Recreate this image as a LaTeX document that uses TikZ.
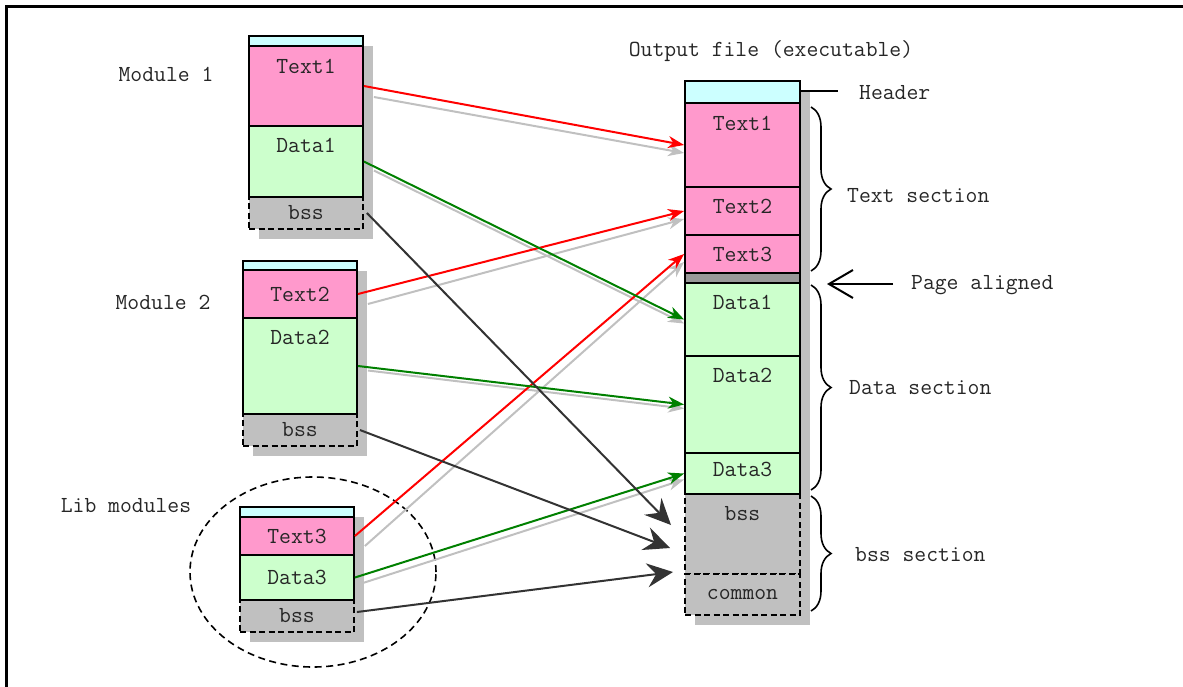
\documentclass[tikz,border=0pt]{standalone}
\usepackage{fontspec}
\usetikzlibrary{arrows.meta,shapes.geometric,decorations.pathreplacing}
\definecolor{pinkc}{HTML}{FF99CC}
\definecolor{greenc}{HTML}{CCFFCC}
\definecolor{cyanc}{HTML}{CCFFFF}
\definecolor{grayc}{HTML}{C0C0C0}
\definecolor{padc}{HTML}{999999}
\definecolor{darkc}{HTML}{333333}
\definecolor{greenl}{HTML}{008000}
\begin{document}
\begin{tikzpicture}[x=1pt,y=-1pt,
  every node/.style={font=\fontsize{23}{27}\selectfont\ttfamily, text=black!85},
  seg/.style={draw, line width=1.8pt, inner sep=0pt, minimum width=114pt},
  dseg/.style={seg, dash pattern=on 6pt off 3.5pt, fill=grayc},
  txt/.style={inner sep=0pt},
  shadowbox/.style={fill=grayc},
  redarr/.style={draw=red, line width=2pt, -{Stealth[length=16pt,width=12pt,inset=5pt]}},
  greenarr/.style={draw=greenl, line width=2pt, -{Stealth[length=16pt,width=12pt,inset=5pt]}},
  grayarr/.style={draw=grayc, line width=2pt, -{Stealth[length=16pt,width=12pt,inset=5pt]}},
  bssarr/.style={draw=darkc, line width=2pt, -{Stealth[length=26pt,width=24pt,inset=9pt]}},
  sbrace/.style={draw, line width=1.6pt, decorate, decoration={brace, amplitude=20pt}}
]
\useasboundingbox (0,0) rectangle (1183,686);
% frame
\draw[line width=3pt] (6,700) -- (6,6) -- (1200,6);

% shadows
\fill[shadowbox] (259,46) rectangle (373,239);
\fill[shadowbox] (253,271) rectangle (367,456);
\fill[shadowbox] (250,517) rectangle (364,642);
\fill[shadowbox] (695,91) rectangle (810,625);

% lib group ellipse
\node[ellipse, draw, dash pattern=on 7pt off 4.5pt, line width=1.6pt, minimum width=246pt, minimum height=190pt] (libgroup) at (313,572) {};

% Module 1
\node[dseg, minimum height=32pt] (b1) at (306,213) {};
\node[seg, fill=cyanc, minimum height=10pt] (h1) at (306,41) {};
\node[seg, fill=pinkc, minimum height=80pt] (t1) at (306,86) {};
\node[seg, fill=greenc, minimum height=71pt] (d1) at (306,161.5) {};
% Module 2
\node[dseg, minimum height=32pt] (b2) at (300,430) {};
\node[seg, fill=cyanc, minimum height=9pt] (h2) at (300,265.5) {};
\node[seg, fill=pinkc, minimum height=48pt] (t2) at (300,294) {};
\node[seg, fill=greenc, minimum height=96pt] (d2) at (300,366) {};
% Lib
\node[dseg, minimum height=32pt] (b3) at (297,616) {};
\node[seg, fill=cyanc, minimum height=10pt] (h3) at (297,512) {};
\node[seg, fill=pinkc, minimum height=38pt] (t3) at (297,536) {};
\node[seg, fill=greenc, minimum height=45pt] (d3) at (297,577.5) {};

% Output file
\node[dseg, minimum width=115pt, minimum height=80pt] (obss) at (742.5,534) {};
\node[dseg, minimum width=115pt, minimum height=41pt] (ocom) at (742.5,594.5) {};
\node[seg, minimum width=115pt, fill=cyanc, minimum height=22pt] (oh) at (742.5,92) {};
\node[seg, minimum width=115pt, fill=pinkc, minimum height=84pt] (ot1) at (742.5,145) {};
\node[seg, minimum width=115pt, fill=pinkc, minimum height=48pt] (ot2) at (742.5,211) {};
\node[seg, minimum width=115pt, fill=pinkc, minimum height=38pt] (ot3) at (742.5,254) {};
\node[seg, minimum width=115pt, fill=padc, minimum height=10pt] (opad) at (742.5,278) {};
\node[seg, minimum width=115pt, fill=greenc, minimum height=73pt] (od1) at (742.5,319.5) {};
\node[seg, minimum width=115pt, fill=greenc, minimum height=97pt] (od2) at (742.5,404.5) {};
\node[seg, minimum width=115pt, fill=greenc, minimum height=41pt] (od3) at (742.5,473.5) {};

% gray shadow arrows
\draw[grayarr] ([shift={(10,11)}]t1.east) -- ([yshift=-8pt]ot1.west);
\draw[grayarr] ([shift={(10,10)}]t2.east) -- ([yshift=-8pt]ot2.west);
\draw[grayarr] ([shift={(10,10)}]t3.east) -- ([yshift=-8pt]ot3.west);
\draw[grayarr] ([shift={(10,9)}]d1.east) -- ([yshift=-4pt]od1.west);
\draw[grayarr] ([shift={(10,4.5)}]d2.east) -- ([yshift=-4pt]od2.west);
\draw[grayarr] ([shift={(8,5.5)}]d3.east) -- ([yshift=-6pt]od3.west);

% colored arrows
\draw[redarr] (t1.east) -- (ot1.west);
\draw[redarr] (t2.east) -- (ot2.west);
\draw[redarr] (t3.east) -- (ot3.west);
\draw[greenarr] (d1.east) -- (od1.west);
\draw[greenarr] (d2.east) -- (od2.west);
\draw[greenarr] (d3.east) -- (od3.west);

% bss arrows
\coordinate (e1) at (671,525);
\coordinate (e2) at (670,548);
\coordinate (e3) at (673,572);
\draw[bssarr] ([xshift=3pt]b1.east) -- (e1);
\draw[bssarr] ([xshift=2pt]b2.east) -- (e2);
\draw[bssarr] ([shift={(2,-4)}]b3.east) -- (e3);

% box labels
\node[txt] (t1l) at ([yshift=-21pt]t1.north) {Text1};
\node[txt] (d1l) at ([yshift=-20pt]d1.north) {Data1};
\node[txt] (b1l) at (b1.center) {bss};
\node[txt] (t2l) at (t2.center) {Text2};
\node[txt] (d2l) at ([yshift=-20pt]d2.north) {Data2};
\node[txt] (b2l) at (b2.center) {bss};
\node[txt] (t3l) at (t3.center) {Text3};
\node[txt] (d3l) at (d3.center) {Data3};
\node[txt] (b3l) at (b3.center) {bss};
\node[txt] (ot1l) at ([yshift=-21pt]ot1.north) {Text1};
\node[txt] (ot2l) at ([yshift=-20pt]ot2.north) {Text2};
\node[txt] (ot3l) at (ot3.center) {Text3};
\node[txt] (od1l) at ([yshift=-20pt]od1.north) {Data1};
\node[txt] (od2l) at ([yshift=-20pt]od2.north) {Data2};
\node[txt] (od3l) at ([yshift=4pt]od3.center) {Data3};
\node[txt] (obssl) at ([yshift=-20pt]obss.north) {bss};
\node[txt] (ocoml) at (ocom.center) {common};

% side labels
\node[txt] (m1) at (166,74) {Module 1};
\node[txt] (m2) at (163,302) {Module 2};
\node[txt] (lib) at (126,506) {Lib modules};
\node[txt] (outl) at (771,51) {Output file (executable)};
\node[txt, anchor=west] (hdr) at (859,93) {Header};
\coordinate (hdrend) at (838,91);
\draw[line width=1.6pt] ([yshift=1pt]oh.east) -- (hdrend);

% braces
\coordinate (tb1) at (811,107);
\coordinate (tb2) at (811,271);
\coordinate (db1) at (811,285);
\coordinate (db2) at (811,490);
\coordinate (bb1) at (811,496);
\coordinate (bb2) at (811,611);
\draw[sbrace] (tb1) -- (tb2);
\draw[sbrace] (db1) -- (db2);
\draw[sbrace] (bb1) -- (bb2);
\node[txt, anchor=west] (ts) at (847,196) {Text section};
\node[txt, anchor=west] (ds) at (849,388) {Data section};
\node[txt, anchor=west] (bs) at (855,555) {bss section};

% page aligned
\node[txt, anchor=west] (pa) at (911,285) {Page aligned};
\coordinate (pastart) at (893,284);
\coordinate (paend) at (827,284);
\draw[line width=2pt, -{Straight Barb[length=24pt,width=28pt,line width=2pt]}] (pastart) -- (paend);
\end{tikzpicture}
\end{document}
